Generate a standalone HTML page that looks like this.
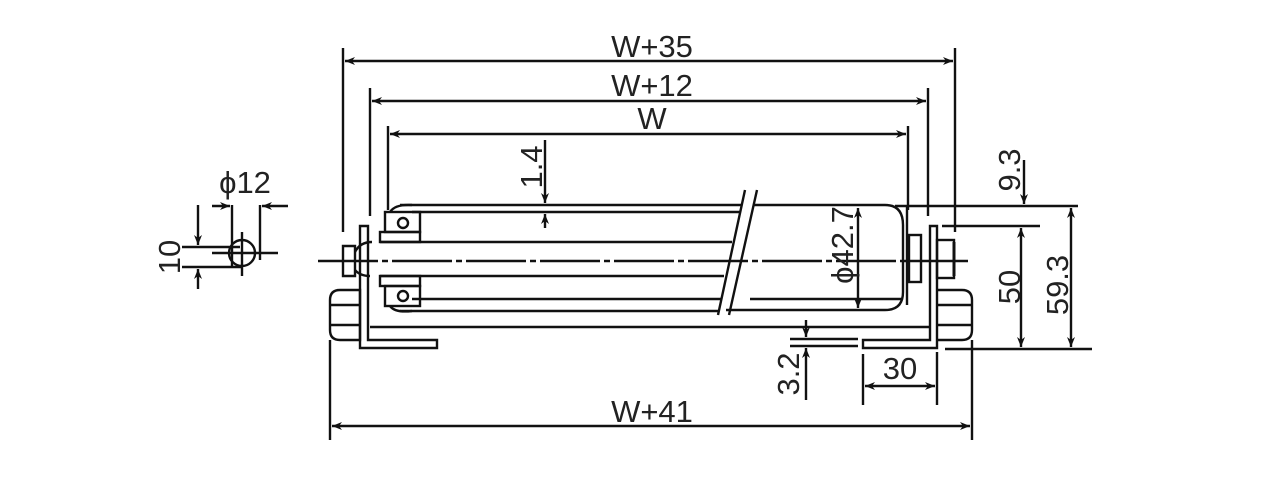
<!DOCTYPE html>
<html><head><meta charset="utf-8"><style>
html,body{margin:0;padding:0;background:#fff;}
svg{display:block}
text{font-family:"Liberation Sans",sans-serif;fill:#222;}
</style></head><body>
<svg width="1261" height="494" viewBox="0 0 1261 494" xmlns="http://www.w3.org/2000/svg">
<defs>
<marker id="a" viewBox="0 0 10 10" refX="10" refY="5" markerWidth="10" markerHeight="10" orient="auto-start-reverse" markerUnits="userSpaceOnUse"><path d="M0,1 L10,5 L0,9 L3,5z" fill="#111"/></marker>
</defs>
<g stroke="#111" stroke-width="2.4" fill="none">
<line x1="343" y1="48" x2="343" y2="232"/>
<line x1="955" y1="48" x2="955" y2="232"/>
<line x1="345" y1="61" x2="953" y2="61" marker-start="url(#a)" marker-end="url(#a)"/>
<line x1="370" y1="88" x2="370" y2="216"/>
<line x1="928" y1="88" x2="928" y2="216"/>
<line x1="372" y1="101" x2="926" y2="101" marker-start="url(#a)" marker-end="url(#a)"/>
<line x1="388" y1="126" x2="388" y2="210"/>
<line x1="908" y1="126" x2="908" y2="210"/>
<line x1="390" y1="134" x2="906" y2="134" marker-start="url(#a)" marker-end="url(#a)"/>
<line x1="330" y1="340" x2="330" y2="440"/>
<line x1="972" y1="340" x2="972" y2="440"/>
<line x1="332" y1="426" x2="970" y2="426" marker-start="url(#a)" marker-end="url(#a)"/>
<line x1="318" y1="261" x2="968" y2="261" stroke-dasharray="60 4 6 4"/>
<line x1="400" y1="205" x2="742" y2="205"/>
<line x1="412" y1="212" x2="740" y2="212"/>
<line x1="380" y1="242" x2="732" y2="242"/>
<line x1="380" y1="276" x2="724" y2="276"/>
<line x1="412" y1="299" x2="722" y2="299"/>
<line x1="400" y1="311" x2="718" y2="311"/>
<line x1="745" y1="190" x2="718" y2="315"/>
<line x1="757" y1="190" x2="729" y2="315"/>
<path d="M753 205 H885 Q903 205 903 225 V292 Q903 310 885 310 H726"/>
<line x1="907" y1="205" x2="907" y2="305"/>
<line x1="750" y1="299" x2="903" y2="299"/>
<line x1="370" y1="327" x2="930" y2="327"/>
<path d="M360 226 H368 V340 H437 V348 H360 Z"/>
<path d="M343 246 H355 V276 H343 Z"/>
<path d="M355 252 Q360 242 372 242 M355 270 Q360 276 370 276"/>
<path d="M340 290 H360 V340 H340 Q330 340 330 330 V300 Q330 290 340 290 Z"/>
<line x1="330" y1="305" x2="360" y2="305"/><line x1="330" y1="325" x2="360" y2="325"/>
<rect x="380" y="232" width="40" height="10"/>
<rect x="380" y="276" width="40" height="10"/>
<rect x="385" y="212" width="35" height="20"/>
<rect x="385" y="286" width="35" height="20"/>
<circle cx="403" cy="223" r="5"/><circle cx="403" cy="296" r="5"/>
<path d="M390 212 Q395 204 412 205 M390 306 Q395 313 412 311"/>
<path d="M930 226 H937 V348 H863 V340 H930 Z"/>
<rect x="909" y="235" width="12" height="47"/>
<rect x="937" y="240" width="17" height="38"/>
<line x1="954" y1="242" x2="954" y2="276" stroke-width="3"/>
<path d="M937 290 H962 Q972 290 972 300 V330 Q972 340 962 340 H937"/>
<line x1="937" y1="305" x2="972" y2="305"/><line x1="937" y1="325" x2="972" y2="325"/>
<line x1="858" y1="208" x2="858" y2="308" marker-start="url(#a)" marker-end="url(#a)"/>
<line x1="895" y1="206" x2="1078" y2="206"/>
<line x1="942" y1="226" x2="1040" y2="226"/>
<line x1="945" y1="349" x2="1092" y2="349"/>
<line x1="1024" y1="160" x2="1024" y2="204" marker-end="url(#a)"/>
<line x1="1021" y1="228" x2="1021" y2="347" marker-start="url(#a)" marker-end="url(#a)"/>
<line x1="1071" y1="208" x2="1071" y2="347" marker-start="url(#a)" marker-end="url(#a)"/>
<line x1="790" y1="339" x2="858" y2="339"/>
<line x1="790" y1="346" x2="858" y2="346"/>
<line x1="806" y1="320" x2="806" y2="337" marker-end="url(#a)"/>
<line x1="806" y1="400" x2="806" y2="348" marker-end="url(#a)"/>
<line x1="863" y1="354" x2="863" y2="405"/>
<line x1="937" y1="352" x2="937" y2="405"/>
<line x1="865" y1="386" x2="935" y2="386" marker-start="url(#a)" marker-end="url(#a)"/>
<line x1="545" y1="140" x2="545" y2="203" marker-end="url(#a)"/>
<line x1="545" y1="228" x2="545" y2="214" marker-end="url(#a)"/>
<circle cx="242" cy="253" r="13"/>
<line x1="242" y1="232" x2="242" y2="276"/>
<line x1="212" y1="253" x2="278" y2="253"/>
<line x1="232" y1="205" x2="232" y2="266"/>
<line x1="260" y1="205" x2="260" y2="260"/>
<line x1="212" y1="206" x2="230" y2="206" marker-end="url(#a)"/>
<line x1="288" y1="206" x2="262" y2="206" marker-end="url(#a)"/>
<line x1="182" y1="247" x2="240" y2="247"/>
<line x1="182" y1="267" x2="242" y2="267"/>
<line x1="198" y1="205" x2="198" y2="245" marker-end="url(#a)"/>
<line x1="198" y1="289" x2="198" y2="269" marker-end="url(#a)"/>
</g>
<g font-size="31">
<text x="652" y="57" text-anchor="middle">W+35</text>
<text x="652" y="96" text-anchor="middle">W+12</text>
<text x="652" y="129" text-anchor="middle">W</text>
<text x="652" y="422" text-anchor="middle">W+41</text>
<text x="900" y="379" text-anchor="middle">30</text>
<text x="245" y="193" text-anchor="middle">ϕ12</text>
<text transform="translate(180,257) rotate(-90)" text-anchor="middle">10</text>
<text transform="translate(542,167) rotate(-90)" text-anchor="middle">1.4</text>
<text transform="translate(1020,170) rotate(-90)" text-anchor="middle">9.3</text>
<text transform="translate(1020,287) rotate(-90)" text-anchor="middle">50</text>
<text transform="translate(1068,285) rotate(-90)" text-anchor="middle">59.3</text>
<text transform="translate(853,245) rotate(-90)" text-anchor="middle">ϕ42.7</text>
<text transform="translate(799,374) rotate(-90)" text-anchor="middle">3.2</text>
</g>
</svg>
</body></html>
